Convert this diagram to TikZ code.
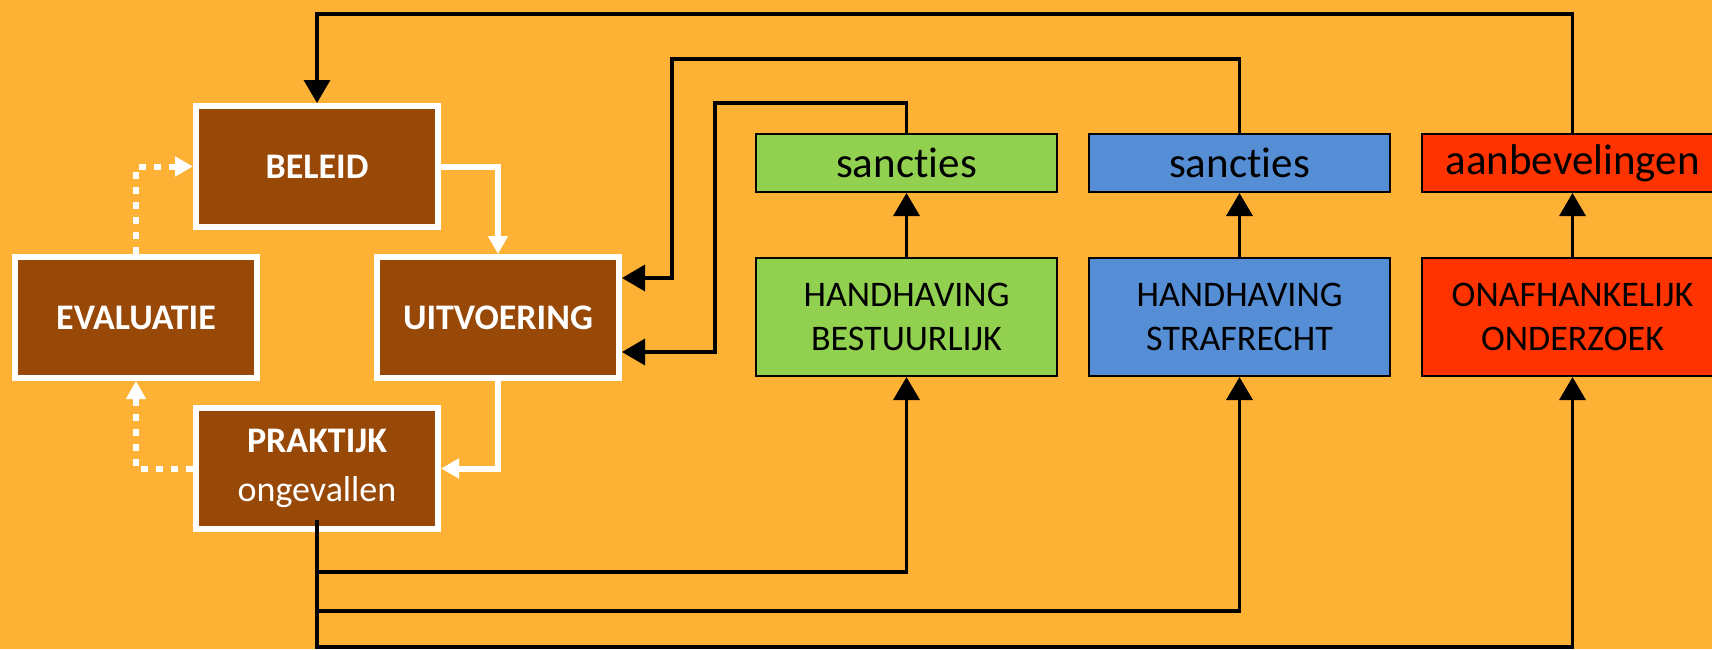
\documentclass[tikz,border=0pt]{standalone}
\usepackage{fontspec}
\setmainfont{Carlito}[Ligatures={NoCommon,NoRequired,NoContextual}]
\usetikzlibrary{arrows.meta,calc}
\definecolor{bgc}{HTML}{FDB235}
\definecolor{brownc}{HTML}{984807}
\definecolor{greenc}{HTML}{92D050}
\definecolor{bluec}{HTML}{558ED5}
\definecolor{redc}{HTML}{FF3300}
\begin{document}
\begin{tikzpicture}[x=1pt,y=-1pt,
  brownbox/.style={draw=white,line width=6pt,fill=brownc,text=white,minimum width=242pt,minimum height=121pt,inner sep=0pt,font=\bfseries\fontsize{36}{44}\selectfont,align=center},
  smallbox/.style={draw=black,line width=2pt,minimum width=301pt,minimum height=58pt,inner sep=0pt,font=\fontsize{43}{52}\selectfont},
  bigbox/.style={draw=black,line width=2pt,minimum width=301pt,minimum height=118pt,inner sep=0pt,font=\fontsize{36}{44}\selectfont,align=center},
  blk/.style={draw=black,line width=3.5pt,-{Triangle[length=23pt,width=26pt]}},
  wht/.style={draw=white,line width=6pt,-{Triangle[length=18pt,width=19pt]}},
  whtdot/.style={wht,dash pattern=on 7pt off 8pt}]
\useasboundingbox (0,0) rectangle (1712,649);
\clip (0,0) rectangle (1712,649);
\fill[bgc] (0,0) rectangle (1712,649);

% brown cycle
\node[brownbox] (bel) at (317,166.5) {BELEID};
\node[brownbox] (eva) at (136,317.5) {EVALUATIE};
\node[brownbox] (uit) at (498,317.5) {UITVOERING};
\node[brownbox] (pra) at (317,468.5) {PRAKTIJK\\[5pt]\mdseries ongevallen};

% coloured boxes
\node[smallbox,fill=greenc] (gs) at (906.5,163) {sancties};
\node[bigbox,fill=greenc] (gh) at (906.5,317) {HANDHAVING\\BESTUURLIJK};
\node[smallbox,fill=bluec] (bs) at (1239.5,163) {sancties};
\node[bigbox,fill=bluec] (bh) at (1239.5,317) {HANDHAVING\\STRAFRECHT};
\node[smallbox,fill=redc] (rs) at (1572.5,163) {aanbevelingen};
\node[bigbox,fill=redc] (rh) at (1572.5,317) {ONAFHANKELIJK\\ONDERZOEK};

% white cycle connectors
\draw[wht] (bel.east) -| (uit.north);
\draw[wht] (uit.south) |- (pra.east);
\draw[whtdot] (pra.west) -| (eva.south);
\draw[whtdot] (eva.north) |- (bel.west);

% vertical arrows
\draw[blk] (gh.north) -- (gs.south);
\draw[blk] (bh.north) -- (bs.south);
\draw[blk] (rh.north) -- (rs.south);

% feedback connectors
\coordinate (t1) at (317,14);
\draw[blk] (rs.north) |- (t1) -- (bel.north);
\coordinate (g1) at (715,103);
\coordinate (g2) at (622,352);
\draw[blk] (gs.north) |- (g1) |- (g2);
\coordinate (b1) at (672,59);
\coordinate (b2) at (622,278);
\draw[blk] (bs.north) |- (b1) |- (b2);

% from praktijk
\coordinate (p0) at (317,520);
\coordinate (l1) at (906.5,572);
\coordinate (l2) at (1239.5,611);
\coordinate (l3) at (1572.5,647);
\draw[blk] (p0) |- (l1) -- (gh.south);
\draw[blk] (p0) |- (l2) -- (bh.south);
\draw[blk] (p0) |- (l3) -- (rh.south);
\end{tikzpicture}
\end{document}
